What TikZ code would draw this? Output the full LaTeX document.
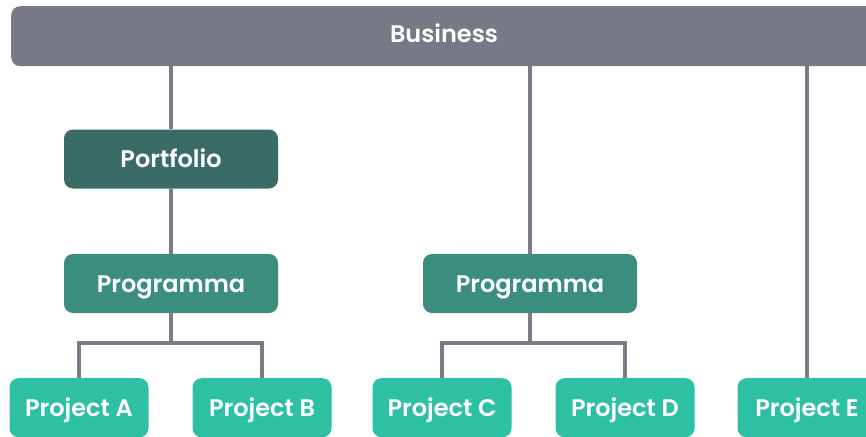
\documentclass[tikz,border=0pt]{standalone}
\usepackage{fontspec}
\setmainfont{Poppins}[BoldFont={Poppins SemiBold}]
\definecolor{bizgray}{HTML}{777986}
\definecolor{linegray}{HTML}{7A7B87}
\definecolor{portcol}{HTML}{3A6B65}
\definecolor{progcol}{HTML}{3B8D7D}
\definecolor{projcol}{HTML}{2EC0A4}
\tikzset{
  box/.style={rectangle, rounded corners=9pt, inner sep=0pt, text=white, text height=17pt, text depth=0pt, font=\fontsize{24}{27}\selectfont\bfseries},
  bizbox/.style={box, fill=bizgray, minimum width=870pt, minimum height=60pt},
  portbox/.style={box, fill=portcol, minimum width=214pt, minimum height=59pt},
  progbox/.style={box, fill=progcol, minimum width=214pt, minimum height=59pt},
  projbox/.style={box, fill=projcol, minimum width=139pt, minimum height=59pt},
  conn/.style={draw=linegray, line width=4pt},
}
\begin{document}
\begin{tikzpicture}[x=1pt,y=-1pt]
\useasboundingbox (0,0) rectangle (866,436);
\clip (0,0) rectangle (866,436);
\node[bizbox, anchor=north west] (biz) at (11,6) {};
\node[box, fill=none] (biztext) at (444,34) {Business};
\node[portbox] (port) at (171,159) {Portfolio};
\node[progbox] (prog1) at (171,283.5) {Programma};
\node[progbox] (prog2) at (530,283.5) {Programma};
\node[projbox, anchor=north] (pa) at (79,378) {Project A};
\node[projbox, anchor=north] (pb) at (262,378) {Project B};
\node[projbox, anchor=north] (pc) at (442,378) {Project C};
\node[projbox, anchor=north] (pd) at (625,378) {Project D};
\node[projbox, anchor=north] (pe) at (807,378) {Project E};
\coordinate (j1) at (171,343);
\coordinate (j2) at (530,343);
\draw[conn] (port.north |- biz.south) -- (port.north);
\draw[conn] (port.south) -- (prog1.north);
\draw[conn] (prog2.north |- biz.south) -- (prog2.north);
\draw[conn] (pe.north |- biz.south) -- (pe.north);
\draw[conn] (prog1.south) -- (j1);
\draw[conn] (pa.north) -- (pa.north |- j1) -- (pb.north |- j1) -- (pb.north);
\draw[conn] (prog2.south) -- (j2);
\draw[conn] (pc.north) -- (pc.north |- j2) -- (pd.north |- j2) -- (pd.north);
\end{tikzpicture}
\end{document}
